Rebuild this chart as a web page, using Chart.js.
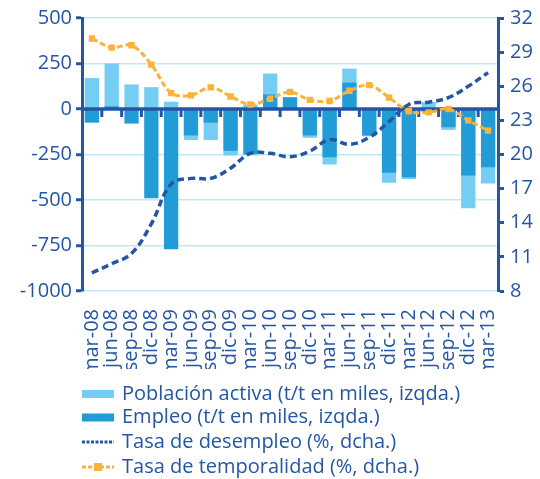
<!DOCTYPE html>
<html lang="es">
<head>
<meta charset="utf-8">
<title>Población activa, empleo, desempleo y temporalidad</title>
<script src="https://cdn.jsdelivr.net/npm/chart.js@4.4.1/dist/chart.umd.min.js"></script>
<style>
    html, body { margin: 0; padding: 0; background: #ffffff; }
    #wrap { width: 540px; height: 479px; }
</style>
</head>
<body>
<div id="wrap"><canvas id="laborChart" width="540" height="479"></canvas></div>
<script>
// Quarterly data, mar-08 .. mar-13
const categories = ['mar-08', 'jun-08', 'sep-08', 'dic-08', 'mar-09', 'jun-09', 'sep-09', 'dic-09',
    'mar-10', 'jun-10', 'sep-10', 'dic-10', 'mar-11', 'jun-11', 'sep-11', 'dic-11',
    'mar-12', 'jun-12', 'sep-12', 'dic-12', 'mar-13'];

// t/t change in thousands (left axis)
const poblacionActiva = [170, 250, 135, 120, 40, -170, -170, -255, 25, 195, 60,
    -158, -305, 222, -150, -405, -385, 38, -115, -545, -410];
const empleo = [-75, 15, -80, -490, -770, -145, -75, -230, -250, 80, 65,
    -145, -265, 145, -145, -350, -375, -16, -100, -365, -320];

// rates in % (right axis)
const tasaDesempleo = [9.6, 10.4, 11.3, 13.9, 17.4, 17.9, 17.9, 18.8, 20.1, 20.1, 19.8,
    20.3, 21.3, 20.9, 21.5, 22.9, 24.4, 24.6, 25.0, 26.0, 27.2];
const tasaTemporalidad = [30.2, 29.4, 29.6, 27.9, 25.4, 25.2, 25.9, 25.1, 24.4, 24.9, 25.5,
    24.8, 24.7, 25.6, 26.1, 25.0, 23.8, 23.7, 24.0, 23.0, 22.1];

const leftTicks = [500, 250, 0, -250, -500, -750, -1000];
const rightTicks = [32, 29, 26, 23, 20, 17, 14, 11, 8];

const BLUE = '#2456a5';
const LIGHT = '#74cdf3';
const MID = '#229cd7';
const ORANGE = '#fbb236';
const GRID = '#c2e7f7';
const FONT = "'Open Sans', 'DejaVu Sans', sans-serif";

// zero line with category tick marks, drawn between the bars and the lines
const zeroAxisPlugin = {
    id: 'zeroAxis',
    afterDatasetDraw(chart, args) {
        if (args.index !== 1) return;
        const { ctx, chartArea, scales } = chart;
        const y0 = scales.y.getPixelForValue(0);
        ctx.save();
        ctx.strokeStyle = BLUE;
        ctx.lineWidth = 3.5;
        ctx.beginPath();
        ctx.moveTo(chartArea.left, y0);
        ctx.lineTo(chartArea.right, y0);
        ctx.stroke();
        ctx.lineWidth = 3;
        for (let i = 1; i < categories.length; i++) {
            const x = (scales.x.getPixelForValue(i - 1) + scales.x.getPixelForValue(i)) / 2;
            ctx.beginPath();
            ctx.moveTo(x, y0);
            ctx.lineTo(x, y0 + 8);
            ctx.stroke();
        }
        ctx.restore();
    }
};

// vertical legend, one entry per row
const stackedLegendPlugin = {
    id: 'stackedLegend',
    afterDraw(chart) {
        const ctx = chart.ctx;
        const left = 82;
        const rows = [394, 417.5, 442, 467];
        ctx.save();
        ctx.font = '20px ' + FONT;
        ctx.textBaseline = 'middle';
        chart.data.datasets.forEach((ds, i) => {
            const y = rows[i];
            if (ds.type === 'bar') {
                ctx.fillStyle = ds.backgroundColor;
                ctx.fillRect(left, y - 4, 32, 8);
            } else {
                ctx.strokeStyle = ds.borderColor;
                ctx.lineWidth = 3;
                ctx.setLineDash(ds.label.startsWith('Tasa de desempleo') ? [3, 1.5] : [4, 2]);
                ctx.beginPath();
                ctx.moveTo(left, y);
                ctx.lineTo(left + 32, y);
                ctx.stroke();
                ctx.setLineDash([]);
                if (ds.pointRadius > 0) {
                    ctx.fillStyle = ds.pointBackgroundColor;
                    ctx.fillRect(left + 12, y - 4, 8, 8);
                }
            }
            ctx.fillStyle = BLUE;
            ctx.fillText(ds.label, left + 40, y);
        });
        ctx.restore();
    }
};

new Chart(document.getElementById('laborChart'), {
    data: {
        labels: categories,
        datasets: [
            {
                type: 'bar',
                label: 'Población activa (t/t en miles, izqda.)',
                data: poblacionActiva,
                backgroundColor: LIGHT,
                yAxisID: 'y',
                grouped: false,
                categoryPercentage: 1,
                barPercentage: 0.72,
                order: 3
            },
            {
                type: 'bar',
                label: 'Empleo (t/t en miles, izqda.)',
                data: empleo,
                backgroundColor: MID,
                yAxisID: 'y',
                grouped: false,
                categoryPercentage: 1,
                barPercentage: 0.72,
                order: 2
            },
            {
                type: 'line',
                label: 'Tasa de desempleo (%, dcha.)',
                data: tasaDesempleo,
                borderColor: BLUE,
                borderWidth: 3.5,
                borderDash: [7, 4],
                pointRadius: 0,
                tension: 0.4,
                fill: false,
                yAxisID: 'y1',
                order: 1
            },
            {
                type: 'line',
                label: 'Tasa de temporalidad (%, dcha.)',
                data: tasaTemporalidad,
                borderColor: ORANGE,
                borderWidth: 3,
                borderDash: [6, 3],
                pointStyle: 'rect',
                pointRadius: 4.5,
                pointBorderWidth: 0,
                pointBackgroundColor: ORANGE,
                tension: 0.35,
                fill: false,
                yAxisID: 'y1',
                order: 0
            }
        ]
    },
    options: {
        responsive: false,
        animation: false,
        layout: {
            padding: { top: 16, left: 0, right: 0, bottom: 110 }
        },
        plugins: {
            legend: { display: false },
            tooltip: { enabled: false }
        },
        scales: {
            x: {
                offset: true,
                grid: { display: false, drawTicks: false },
                border: { display: false },
                ticks: {
                    color: BLUE,
                    font: { family: FONT, size: 20 },
                    minRotation: 90,
                    maxRotation: 90,
                    autoSkip: false,
                    padding: 18
                },
                afterFit(scale) { scale.height = 78; }
            },
            y: {
                position: 'left',
                min: -1000,
                max: 500,
                afterBuildTicks(scale) { scale.ticks = leftTicks.map(v => ({ value: v })); },
                grid: {
                    color: GRID,
                    lineWidth: 1.5,
                    tickColor: BLUE,
                    tickLength: 6,
                    tickWidth: 3
                },
                border: { color: BLUE, width: 3 },
                ticks: {
                    color: BLUE,
                    font: { family: FONT, size: 20 },
                    padding: 4,
                    callback: v => String(v)
                },
                afterFit(scale) { scale.width = 82; }
            },
            y1: {
                position: 'right',
                min: 8,
                max: 32,
                afterBuildTicks(scale) { scale.ticks = rightTicks.map(v => ({ value: v })); },
                grid: {
                    drawOnChartArea: false,
                    tickColor: BLUE,
                    tickLength: 6,
                    tickWidth: 3
                },
                border: { color: BLUE, width: 3 },
                ticks: {
                    color: BLUE,
                    font: { family: FONT, size: 20 },
                    padding: 6,
                    callback: v => String(v)
                },
                afterFit(scale) { scale.width = 42; }
            }
        }
    },
    plugins: [zeroAxisPlugin, stackedLegendPlugin]
});
</script>
</body>
</html>
